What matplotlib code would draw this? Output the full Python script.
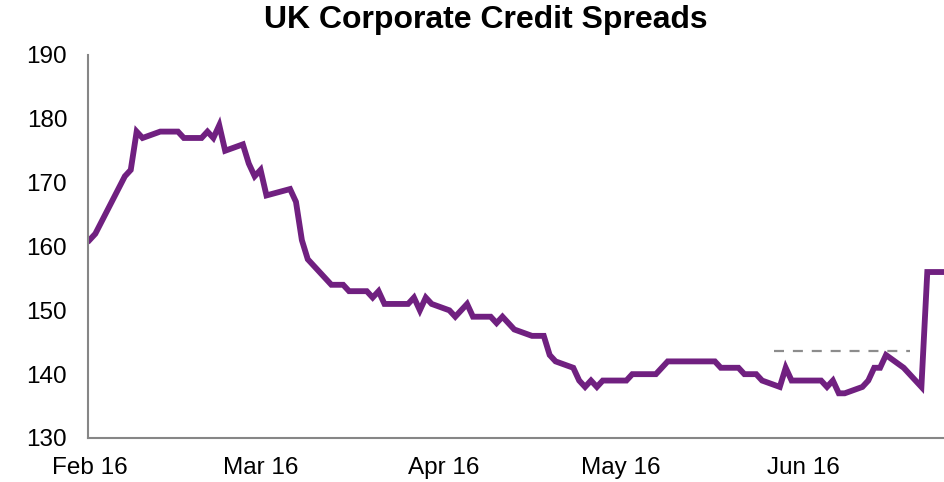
import matplotlib.pyplot as plt
import matplotlib.dates as mdates
import pandas as pd

plt.rcParams['font.family'] = ['Liberation Sans', 'DejaVu Sans']

# spread series, bps
dates = ['2016-02-01', '2016-02-02', '2016-02-07', '2016-02-08', '2016-02-09', '2016-02-10',
         '2016-02-13', '2016-02-16', '2016-02-17', '2016-02-20', '2016-02-21', '2016-02-22',
         '2016-02-23', '2016-02-24', '2016-02-27', '2016-02-28', '2016-02-29', '2016-03-01',
         '2016-03-02', '2016-03-06', '2016-03-07', '2016-03-08', '2016-03-09', '2016-03-13',
         '2016-03-15', '2016-03-16', '2016-03-19', '2016-03-20', '2016-03-21', '2016-03-22',
         '2016-03-26', '2016-03-27', '2016-03-28', '2016-03-29', '2016-03-30', '2016-04-02',
         '2016-04-03', '2016-04-05', '2016-04-06', '2016-04-09', '2016-04-10', '2016-04-11',
         '2016-04-13', '2016-04-16', '2016-04-18', '2016-04-19', '2016-04-20', '2016-04-23',
         '2016-04-24', '2016-04-25', '2016-04-26', '2016-04-27', '2016-04-28', '2016-05-02',
         '2016-05-03', '2016-05-07', '2016-05-09', '2016-05-17', '2016-05-18', '2016-05-21',
         '2016-05-22', '2016-05-24', '2016-05-25', '2016-05-28', '2016-05-29', '2016-05-30',
         '2016-06-04', '2016-06-05', '2016-06-06', '2016-06-07', '2016-06-08', '2016-06-11',
         '2016-06-12', '2016-06-13', '2016-06-14', '2016-06-15', '2016-06-18', '2016-06-21',
         '2016-06-22', '2016-06-25']
spread = [161, 162, 171, 172, 178, 177,
          178, 178, 177, 177, 178, 177,
          179, 175, 176, 173, 171, 172,
          168, 169, 167, 161, 158, 154,
          154, 153, 153, 152, 153, 151,
          151, 152, 150, 152, 151, 150,
          149, 151, 149, 149, 148, 149,
          147, 146, 146, 143, 142, 141,
          139, 138, 139, 138, 139, 139,
          140, 140, 142, 142, 141, 141,
          140, 140, 139, 138, 141, 139,
          139, 138, 139, 137, 137, 138,
          139, 141, 141, 143, 141, 138,
          156, 156]

# reference level
ref_dates = ['2016-05-27', '2016-06-19']
ref_level = [143.7, 143.7]

month_ticks = ['2016-02-01', '2016-03-01', '2016-04-01', '2016-05-01', '2016-06-01']

x = pd.to_datetime(dates)
xr = pd.to_datetime(ref_dates)

fig = plt.figure(figsize=(9.45, 4.82), dpi=100)
ax = fig.add_axes([0.0931, 0.0913, 0.9069, 0.7946])

ax.plot(x, spread, color='#702080', lw=4.2, solid_joinstyle='miter')
ax.plot(xr, ref_level, color='#8c8c8c', lw=1.6, dashes=(4.5, 4))

ax.set_ylim(130, 190)
ax.set_yticks(range(130, 191, 10))
ax.set_xlim(mdates.date2num(pd.Timestamp('2016-02-01')) - 0.25,
            mdates.date2num(pd.Timestamp('2016-06-25')))
ax.set_xticks(pd.to_datetime(month_ticks))
ax.xaxis.set_major_formatter(mdates.DateFormatter('%b %y'))

for side in ['top', 'right']:
    ax.spines[side].set_visible(False)
for side in ['left', 'bottom']:
    ax.spines[side].set_color('#868686')
    ax.spines[side].set_linewidth(1.5)

ax.tick_params(axis='both', length=0, labelsize=17.5, colors='black')
ax.tick_params(axis='y', pad=15)
ax.tick_params(axis='x', pad=14)

fig.text(0.514, 1 - 20 / 482, 'UK Corporate Credit Spreads', fontsize=23,
         fontweight='bold', ha='center', va='center')

fig.savefig('out.png', dpi=100)
